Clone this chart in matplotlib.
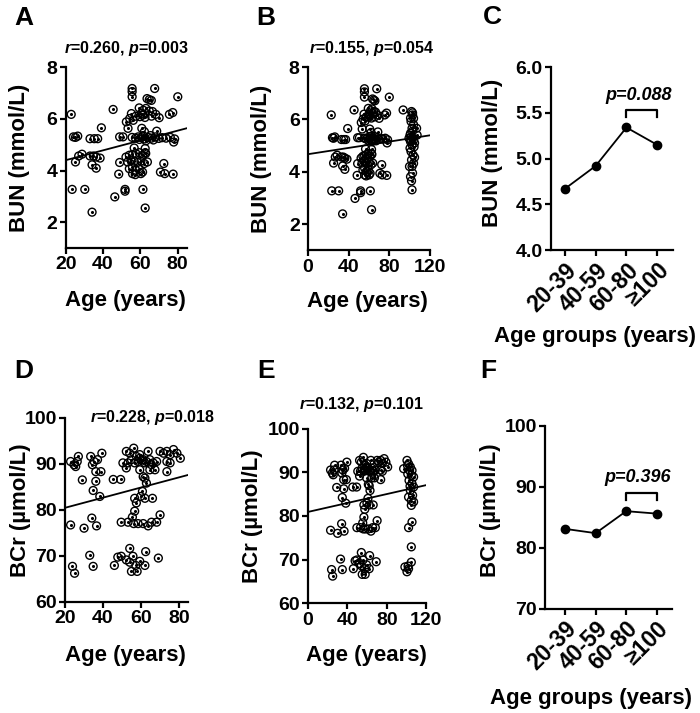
import numpy as np
import matplotlib
matplotlib.use('Agg')
import matplotlib.pyplot as plt

# --- data ---
# BUN vs age, adults 20-80 (panel A, also part of panel B)
bun_age = [22.9, 24.1, 25.2, 26.4, 23.4, 25.2, 26.9, 28.7, 30.2, 33.0, 35.3, 37.1, 33.0, 34.8,
           36.3, 38.4, 34.1, 36.3, 34.1, 39.1, 45.4, 46.3, 48.4, 48.9, 48.9, 50.7, 51.8, 51.8,
           52.5, 54.3, 55.2, 53.4, 55.6, 55.6, 55.6, 67.7, 63.6, 64.8, 65.9, 80.1, 75.6, 77.4,
           59.4, 61.6, 63.0, 64.8, 66.5, 68.3, 70.1, 61.2, 59.8, 57.6, 56.2, 62.5, 60.5, 66.0,
           60.8, 62.2, 68.8,
           55.6, 57.4, 58.8, 60.6, 62.4, 64.2, 66.0, 68.1, 69.9, 71.7, 73.8, 76.1, 78.4, 77.9,
           59.5, 63.0, 65.5, 61.5, 67.0,
           52.3, 54.1, 55.8, 57.6, 59.4, 61.2, 62.9, 53.2, 55.0, 56.7, 58.5, 60.3, 62.1, 63.8,
           54.1, 55.8, 57.6, 59.4, 61.2, 55.8, 57.3, 60.3, 62.6, 62.6, 56.7,
           72.6, 70.8, 73.1, 77.6, 61.4, 62.6]
bun_val = [6.17, 5.30, 5.28, 5.33, 3.27, 4.33, 4.56, 4.63, 3.27, 5.23, 5.23, 5.23, 4.56, 4.56,
           4.52, 4.48, 4.22, 4.09, 2.39, 5.65, 6.36, 2.98, 3.86, 4.31, 5.30, 5.30, 3.27, 3.20,
           5.88, 6.01, 6.20, 5.63, 7.17, 7.05, 6.85, 7.17, 6.78, 6.74, 6.71, 6.85, 6.17, 6.24,
           6.42, 6.33, 6.40, 6.30, 6.28, 6.17, 6.04, 6.14, 6.08, 6.10, 5.94, 6.05, 6.20, 6.10,
           5.63, 5.50, 5.52,
           5.28, 5.25, 5.30, 5.27, 5.22, 5.28, 5.25, 5.30, 5.24, 5.27, 5.25, 5.28, 5.22, 5.10,
           5.20, 5.15, 5.35, 5.35, 5.18,
           4.52, 4.59, 4.62, 4.66, 4.69, 4.59, 4.66, 4.33, 4.40, 4.36, 4.31, 4.36, 4.27, 4.33,
           4.07, 4.14, 4.01, 4.07, 3.94, 3.88, 3.84, 3.88, 4.69, 4.85, 4.87,
           4.27, 3.94, 3.88, 3.86, 3.27, 2.55]

# BUN of centenarians (added in panel B)
cent_bun_age = [93.7, 102.0, 103.0, 104.0, 101.5, 102.5, 101.0, 102.0, 103.0, 104.0, 101.0,
                102.5, 101.5, 103.5, 102.0, 104.0, 102.5, 101.0, 102.0, 102.5, 107.0, 107.5,
                104.0, 99.5, 101.5, 100.5, 103.0, 105.0, 104.5, 100.5, 103.0, 101.0, 105.0,
                100.0, 103.0]
cent_bun_val = [6.36, 6.30, 6.17, 6.04, 5.92, 5.66, 5.47, 5.34, 5.28, 5.21, 5.15,
                5.03, 4.77, 4.64, 4.45, 4.32, 4.20, 3.81, 3.65, 3.31, 5.66, 5.40,
                5.80, 5.28, 5.21, 5.40, 5.55, 5.10, 4.95, 4.90, 6.25, 6.05, 4.55,
                4.20, 3.95]

# BCr vs age, adults 20-80 (panel D, also part of panel E)
bcr_age = [22.9, 24.7, 26.4, 27.0, 25.6, 33.5, 35.3, 37.1, 39.4, 34.4, 36.2, 38.9,
           29.1, 36.2, 34.8, 38.3, 45.4, 49.3, 22.9, 30.0, 34.1, 36.6,
           23.9, 25.0, 34.8, 33.0,
           46.0, 47.8, 49.6, 52.3, 54.1, 55.8, 57.3, 58.0, 55.0, 62.1, 59.4, 54.1, 62.5, 69.2,
           49.6, 53.2, 56.2, 58.5, 61.2, 63.8, 65.6, 68.3, 70.1, 56.7, 55.5, 57.6, 56.7, 62.1,
           66.1, 60.8, 59.8, 62.9, 62.1, 61.2, 59.4,
           52.3, 54.1, 56.2, 57.6, 59.4, 61.2, 62.9, 64.7, 66.5, 68.3, 70.1, 71.9, 73.7, 75.4,
           77.2, 79.0, 80.8, 73.7, 75.4, 50.5, 53.2, 55.0, 56.7, 58.5, 60.3, 62.1, 52.3, 64.7,
           67.4, 73.7, 65.6, 59.4, 63.8]
bcr_val = [90.5, 89.8, 90.5, 91.6, 89.4, 91.6, 90.5, 90.9, 92.3, 89.8, 88.3, 88.3,
           86.5, 86.2, 84.2, 82.9, 86.6, 86.6, 76.7, 76.0, 78.2, 76.5,
           67.7, 66.2, 67.7, 70.1,
           67.9, 69.7, 69.9, 69.1, 68.6, 69.9, 67.9, 66.6, 66.6, 67.9, 68.8, 71.6, 70.9, 69.5,
           77.3, 77.3, 77.0, 77.0, 77.0, 76.5, 77.3, 77.3, 78.9, 79.7, 78.4, 81.5, 82.5, 82.5,
           82.5, 84.0, 82.9, 85.8, 86.9, 87.2, 88.7,
           92.7, 92.3, 93.4, 91.6, 91.2, 90.9, 90.5, 90.9, 90.2, 90.5, 92.7, 92.3, 92.7, 92.0,
           93.1, 92.3, 91.2, 90.5, 90.2, 90.2, 90.2, 90.9, 90.2, 90.5, 90.8, 90.2, 89.1, 88.7,
           88.7, 88.3, 89.8, 92.0, 92.7]

# BCr of centenarians (added in panel E)
cent_bcr_age = [97.0, 100.4, 102.0, 103.8, 105.5, 101.2, 104.8, 107.1, 102.5, 105.5, 107.1,
                103.8, 106.1, 102.0, 104.8, 107.1, 104.8, 105.5, 102.0, 104.8, 100.4, 102.0,
                104.8, 98.3, 101.5, 103.0, 101.0, 103.5]
cent_bcr_val = [90.8, 92.7, 91.9, 91.2, 90.4, 89.6, 89.3, 88.9, 88.1, 87.4, 86.6,
                85.8, 84.7, 84.3, 83.5, 83.2, 82.4, 78.6, 77.3, 72.9, 67.2, 67.9,
                69.4, 68.3, 68.5, 90.4, 91.5, 86.8]

# regression lines (slope, intercept) as drawn
fit_a = (0.0190, 4.02)
fit_b = (0.0060, 4.67)
fit_d = (0.110, 78.24)
fit_e = (0.0512, 80.9)

# group means
age_groups = ['20-39', '40-59', '60-80', '\u2265100']
bun_means = [4.67, 4.92, 5.34, 5.15]
bcr_means = [83.1, 82.4, 86.0, 85.6]

plt.rcParams['font.family'] = ['Liberation Sans', 'DejaVu Sans']
plt.rcParams['font.weight'] = 'bold'
plt.rcParams['axes.labelweight'] = 'bold'
plt.rcParams['mathtext.fontset'] = 'custom'
plt.rcParams['mathtext.it'] = 'Liberation Sans:italic:bold'
plt.rcParams['mathtext.rm'] = 'Liberation Sans:bold'
plt.rcParams['axes.linewidth'] = 1.6


def style_axes(ax, xlim, ylim, xticks, yticks):
    ax.spines['top'].set_visible(False)
    ax.spines['right'].set_visible(False)
    ax.set_xlim(xlim)
    ax.set_ylim(ylim)
    ax.set_xticks(xticks)
    ax.set_yticks(yticks)
    ax.tick_params(direction='out', length=4, width=1.6, labelsize=14, pad=2)


def set_labels(ax, xlabel, ylabel, xpos, ypos, size=16):
    ax.set_xlabel(xlabel, fontsize=size)
    ax.set_ylabel(ylabel, fontsize=size)
    ax.xaxis.set_label_coords(*xpos)
    ax.yaxis.set_label_coords(*ypos)
    ax.xaxis.label.set_va('center')
    ax.yaxis.label.set_va('center')


def scatter_panel(ax, ages, vals, fit, xlim, ylim, xticks, yticks):
    ax.scatter(ages, vals, s=32, facecolors='none', edgecolors='black', linewidths=1.0, zorder=3)
    ax.scatter(ages, vals, s=1.5, color='black', zorder=4)
    xs = np.array(xlim, dtype=float)
    ax.plot(xs, fit[0] * xs + fit[1], color='black', lw=1.3, zorder=2)
    style_axes(ax, xlim, ylim, xticks, yticks)


def group_panel(ax, means, xlim, ylim, yticks, bracket, ptext, ptext_y):
    x = np.arange(len(means))
    ax.plot(x, means, color='black', lw=1.3, marker='o', markersize=6)
    style_axes(ax, xlim, ylim, x, yticks)
    ax.set_xticklabels(age_groups, rotation=45, ha='right', rotation_mode='anchor',
                       fontsize=16.5)
    lo, hi = bracket
    ax.plot([2, 2, 3, 3], [lo, hi, hi, lo], color='black', lw=1.6)
    ax.text(2.38, ptext_y, ptext, fontsize=13, fontstyle='italic', fontweight='bold',
            ha='center', va='center')


fig = plt.figure(figsize=(7, 7.13), dpi=100)

# A
ax = fig.add_axes([0.094, 0.652, 0.173, 0.254])
scatter_panel(ax, bun_age, bun_val, fit_a, (20, 85), (1, 8), [20, 40, 60, 80], [2, 4, 6, 8])
set_labels(ax, 'Age (years)', 'BUN (mmol/L)', (0.49, -0.29), (-0.38, 0.5))
ax.text(0.5, 1.105, '$r$=0.260, $p$=0.003', transform=ax.transAxes, fontsize=11.5,
        ha='center', va='center')

# B
ax = fig.add_axes([0.44, 0.649, 0.174, 0.257])
scatter_panel(ax, bun_age + cent_bun_age, bun_val + cent_bun_val, fit_b, (0, 120), (1, 8),
              [0, 40, 80, 120], [2, 4, 6, 8])
set_labels(ax, 'Age (years)', 'BUN (mmol/L)', (0.49, -0.28), (-0.38, 0.5))
ax.text(0.52, 1.10, '$r$=0.155, $p$=0.054', transform=ax.transAxes, fontsize=11.5,
        ha='center', va='center')

# C
ax = fig.add_axes([0.787, 0.649, 0.174, 0.257])
group_panel(ax, bun_means, (-0.45, 3.5), (4, 6), [4.0, 4.5, 5.0, 5.5, 6.0],
            (5.45, 5.53), 'p=0.088', 5.69)
ax.set_yticklabels(['4.0', '4.5', '5.0', '5.5', '6.0'])
set_labels(ax, 'Age groups (years)', 'BUN (mmol/L)', (0.36, -0.47), (-0.48, 0.53))

# D
ax = fig.add_axes([0.093, 0.156, 0.176, 0.258])
scatter_panel(ax, bcr_age, bcr_val, fit_d, (20, 85), (60, 100), [20, 40, 60, 80],
              [60, 70, 80, 90, 100])
set_labels(ax, 'Age (years)', 'BCr (\u00b5mol/L)', (0.49, -0.29), (-0.36, 0.5))
ax.text(0.71, 1.0, '$r$=0.228, $p$=0.018', transform=ax.transAxes, fontsize=11.5,
        ha='center', va='center')

# E
ax = fig.add_axes([0.44, 0.154, 0.169, 0.245])
scatter_panel(ax, bcr_age + cent_bcr_age, bcr_val + cent_bcr_val, fit_e, (0, 120), (60, 100),
              [0, 40, 80, 120], [60, 70, 80, 90, 100])
set_labels(ax, 'Age (years)', 'BCr (\u00b5mol/L)', (0.49, -0.30), (-0.47, 0.5))
ax.text(0.45, 1.14, '$r$=0.132, $p$=0.101', transform=ax.transAxes, fontsize=11.5,
        ha='center', va='center')

# F
ax = fig.add_axes([0.779, 0.146, 0.181, 0.257])
group_panel(ax, bcr_means, (-0.65, 3.5), (70, 100), [70, 80, 90, 100],
            (87.9, 89.0), 'p=0.396', 91.5)
set_labels(ax, 'Age groups (years)', 'BCr (\u00b5mol/L)', (0.36, -0.49), (-0.43, 0.54))

# panel letters (pixel centres converted to figure fractions)
for letter, px, py in [('A', 24, 18), ('B', 266, 18), ('C', 492, 17),
                       ('D', 24, 371), ('E', 266, 371), ('F', 488, 371)]:
    fig.text(px / 700, 1 - py / 713, letter, fontsize=19, fontweight='bold',
             ha='center', va='center')

fig.savefig('out.png', dpi=100)
